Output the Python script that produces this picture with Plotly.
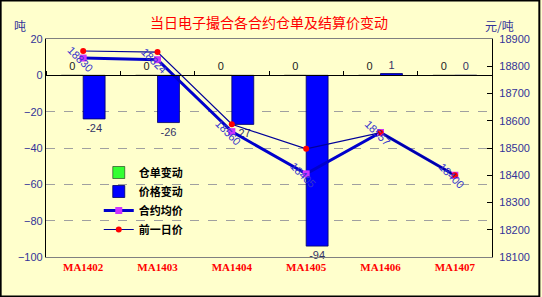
import plotly.graph_objects as go

categories = ["MA1402", "MA1403", "MA1404", "MA1405", "MA1406", "MA1407"]
warrant_change = [0, 0, 0, 0, 0, 0]          # 仓单变动
price_change = [-24, -26, -27, -94, 1, 0]    # 价格变动
avg_price = [18830, 18824, 18560, 18405, 18557, 18400]   # 合约均价
prev_price = [18856, 18852, 18587, 18497, 18556, 18400]  # 前一日价

W, H = 542, 297
ML, MR, MT, MB = 46, 48, 39, 40
PW, PH = W - ML - MR, H - MT - MB

cjk = "Noto Sans CJK SC"
fig = go.Figure()

fig.add_trace(go.Bar(
    x=categories, y=warrant_change, name="仓单变动",
    marker=dict(color="#33ff33", line=dict(color="#000000", width=0.5)),
    text=[str(v) for v in warrant_change], textposition="outside",
    textfont=dict(color="#222222", size=11, family="Arial"),
    cliponaxis=False,
))
fig.add_trace(go.Bar(
    x=categories, y=price_change, name="价格变动",
    marker=dict(color="#0000ff", line=dict(color="#000066", width=0.8)),
    text=[str(v) for v in price_change], textposition="outside",
    textfont=dict(color="#333366", size=11, family="Arial"),
    cliponaxis=False,
))
fig.add_trace(go.Scatter(
    x=categories, y=avg_price, name="合约均价", yaxis="y2",
    mode="lines+markers",
    line=dict(color="#0000cc", width=3),
    marker=dict(color="#cc33ff", size=7, symbol="square"),
    cliponaxis=False,
))
fig.add_trace(go.Scatter(
    x=categories, y=prev_price, name="前一日价", yaxis="y2",
    mode="lines+markers",
    line=dict(color="#000099", width=1.2),
    marker=dict(color="#ff0000", size=6, symbol="circle"),
    cliponaxis=False,
))
# invisible trace to carry the tick axis at zero
fig.add_trace(go.Scatter(
    x=categories, y=[None] * len(categories), xaxis="x2", showlegend=False,
    hoverinfo="skip", mode="lines",
))

annotations = []
for c, v in zip(categories, avg_price):
    annotations.append(dict(
        x=c, y=v, xref="x", yref="y2", text=str(v), showarrow=False,
        textangle=45, xshift=-3, yshift=-1,
        font=dict(color="#3333cc", size=11, family="Arial"),
    ))
annotations.append(dict(x=(12 - ML) / PW, y=(H - MB - 15) / PH, xref="paper", yref="paper",
                        text="吨", showarrow=False,
                        font=dict(color="#333399", size=12, family=cjk)))
annotations.append(dict(x=(518 - ML) / PW, y=(H - MB - 15) / PH, xref="paper", yref="paper",
                        text="元/吨", showarrow=False,
                        font=dict(color="#333399", size=12, family=cjk)))

zero_pos = (0 - (-100)) / (20 - (-100))

fig.update_layout(
    width=W, height=H,
    margin=dict(l=ML, r=MR, t=MT, b=MB),
    paper_bgcolor="#ffffcc", plot_bgcolor="#ffffcc",
    title=dict(text="当日电子撮合各合约仓单及结算价变动", x=0.5, xref="paper",
               y=1 - 23 / H, yref="container", yanchor="middle", xanchor="center",
               font=dict(color="#ff0000", size=14, family=cjk)),
    barmode="group", bargap=0.41, bargroupgap=0,
    showlegend=True,
    legend=dict(x=(99 - ML) / PW, y=(H - MB - 158) / PH, xanchor="left", yanchor="top",
                bgcolor="rgba(0,0,0,0)", borderwidth=0, tracegroupgap=0,
                font=dict(size=11, color="#000000", family=cjk, weight="bold")),
    xaxis=dict(showgrid=False, showline=True, linecolor="#808080", linewidth=1, mirror=True,
               ticks="", tickfont=dict(color="#ff0000", size=11, family="Liberation Serif", weight="bold"),
               zeroline=False),
    xaxis2=dict(overlaying="x", anchor="free", position=zero_pos, side="top",
                showline=True, linecolor="#000000", linewidth=1.2,
                ticks="outside", ticklen=4, tickcolor="#000000", tickson="boundaries",
                showticklabels=False, showgrid=False, matches="x"),
    yaxis=dict(range=[-100, 20], dtick=20, showgrid=True, gridcolor="#a0a0a0",
               griddash="dash", gridwidth=1, zeroline=False,
               showline=True, linecolor="#000000", linewidth=1.2,
               ticks="", tickfont=dict(color="#333399", size=11, family="Arial")),
    yaxis2=dict(range=[18100, 18900], dtick=100, overlaying="y", side="right",
                tickformat="d", ticklabelstandoff=4,
                showgrid=False, zeroline=False, showline=True, linecolor="#000000",
                linewidth=1.2, ticks="inside", ticklen=5, tickcolor="#000000",
                tickfont=dict(color="#333399", size=11, family="Arial")),
    annotations=annotations,
    shapes=[dict(type="rect", xref="paper", yref="paper",
                 x0=-ML / PW + 0.001, x1=1 + MR / PW - 0.001,
                 y0=-MB / PH + 0.002, y1=1 + MT / PH - 0.002,
                 line=dict(color="#000000", width=2), layer="above")],
)

fig.write_html("out.html")
